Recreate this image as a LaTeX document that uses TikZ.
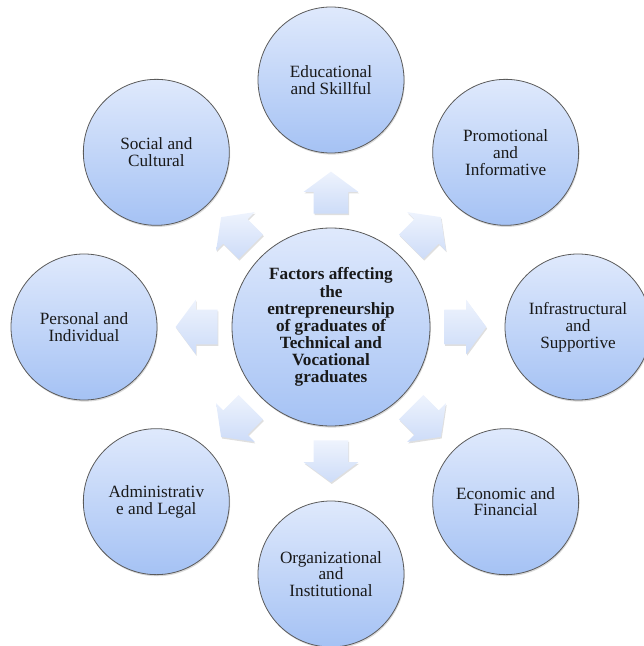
\documentclass[tikz,border=0pt]{standalone}
\usepackage{fontspec}
\setmainfont{Liberation Serif}
\usetikzlibrary{positioning}
\usetikzlibrary{shapes.arrows}
\usetikzlibrary{shadows}
\definecolor{circtop}{HTML}{DFE9FC}
\definecolor{circbot}{HTML}{A5C2F4}
\definecolor{arrtop}{HTML}{EEF3FD}
\definecolor{arrbot}{HTML}{CDDCF8}
\definecolor{rimgray}{HTML}{5A5A5A}

\begin{document}
\begin{tikzpicture}[x=0.75pt, y=0.75pt,
hubnode/.style={circle, draw=rimgray, line width=0.6pt, top color=circtop, bottom color=circbot, minimum size=148.5pt, inner sep=0pt, align=center, font=\fontsize{12.9}{12.8}\selectfont\bfseries, text=black!90, drop shadow={opacity=0.3, shadow xshift=0.6pt, shadow yshift=-1.2pt}},
factornode/.style={circle, draw=rimgray, line width=0.6pt, top color=circtop, bottom color=circbot, minimum size=109.5pt, inner sep=0pt, align=center, font=\fontsize{12.9}{12.6}\selectfont, text=black!90, drop shadow={opacity=0.3, shadow xshift=0.6pt, shadow yshift=-1.2pt}},
flowarrow/.style={single arrow, draw=none, top color=arrtop, bottom color=arrbot, minimum height=31.5pt, inner xsep=0pt, inner ysep=12.75pt, single arrow head extend=7.5pt, single arrow tip angle=107, drop shadow={opacity=0.25, shadow xshift=0.6pt, shadow yshift=-1.2pt}},
]
\useasboundingbox (-331,-319) rectangle (312,327);
\node[hubnode](n0) at (0,0){Factors affecting\\the\\entrepreneurship\\of graduates of\\Technical and\\Vocational\\graduates};
\node[factornode](n1) at (90:247){Educational\\and Skillful};
\node[factornode](n2) at (45:247){Promotional\\and\\Informative};
\node[factornode](n3) at (0:247){Infrastructural\\and\\Supportive};
\node[factornode](n4) at (-45:247){Economic and\\Financial};
\node[factornode](n5) at (-90:247){Organizational\\and\\Institutional};
\node[factornode](n6) at (-135:247){Administrativ\\e and Legal};
\node[factornode](n7) at (180:247){Personal and\\Individual};
\node[factornode](n8) at (135:247){Social and\\Cultural};
\node[flowarrow, rotate=90](a1) at (90:128){};
\node[flowarrow, rotate=45](a2) at (45:128){};
\node[flowarrow, rotate=0](a3) at (0:128){};
\node[flowarrow, rotate=-45](a4) at (-45:128){};
\node[flowarrow, rotate=-90](a5) at (-90:128){};
\node[flowarrow, rotate=-135](a6) at (-135:128){};
\node[flowarrow, rotate=180](a7) at (180:128){};
\node[flowarrow, rotate=135](a8) at (135:128){};
\end{tikzpicture}
\end{document}
